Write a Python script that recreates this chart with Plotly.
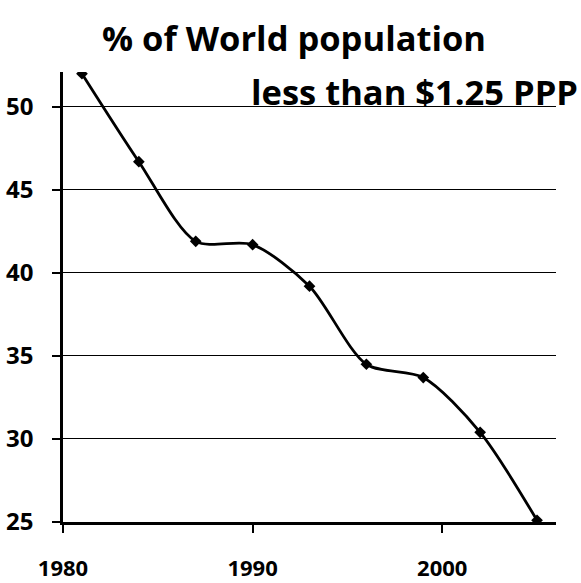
import plotly.graph_objects as go

years = [1981, 1984, 1987, 1990, 1993, 1996, 1999, 2002, 2005]
percent = [52.0, 46.7, 41.9, 41.7, 39.2, 34.5, 33.7, 30.4, 25.1]
x_ticks = [1980, 1990, 2000]
y_ticks = [25, 30, 35, 40, 45, 50]
title_line1 = "% of World population"
title_line2 = "less than $1.25 PPP"

FONT = "Open Sans"
W, H = 581, 583
ML, MR, MT, MB = 63, 25, 72, 61
PW, PH = W - ML - MR, H - MT - MB

fig = go.Figure()
fig.add_trace(go.Scatter(
    x=years, y=percent, mode="lines+markers",
    line=dict(color="black", width=2.8, shape="spline", smoothing=0.8),
    marker=dict(symbol="diamond", size=9, color="black"),
    showlegend=False,
))

fig.update_layout(
    width=W, height=H,
    margin=dict(l=ML, r=MR, t=MT, b=MB, autoexpand=False),
    paper_bgcolor="white", plot_bgcolor="white",
    font=dict(family=FONT, color="black"),
    xaxis=dict(range=[1980, 2006], tickvals=x_ticks, ticktext=[str(v) for v in x_ticks],
               ticks="outside", ticklen=8, tickwidth=2, tickcolor="black",
               showline=True, linewidth=3, linecolor="black",
               showgrid=False, zeroline=False, automargin=False,
               tickfont=dict(family=FONT, size=22, color="black", weight="bold"),
               ticklabelstandoff=17),
    yaxis=dict(range=[25, 52.1], tickvals=y_ticks, ticktext=[str(v) for v in y_ticks],
               ticks="outside", ticklen=8, tickwidth=1.5, tickcolor="black",
               showline=True, linewidth=2.5, linecolor="black",
               showgrid=True, gridcolor="black", gridwidth=1, zeroline=False,
               automargin=False,
               tickfont=dict(family=FONT, size=24, color="black", weight="bold"),
               ticklabelstandoff=14),
    annotations=[
        dict(text=title_line1, xref="paper", yref="paper",
             x=(294 - ML) / PW, y=1 + (MT - 38) / PH,
             xanchor="center", yanchor="middle", showarrow=False,
             font=dict(family=FONT, size=34.5, color="black", weight="bold")),
        dict(text=title_line2, xref="paper", yref="paper",
             x=(580 - ML) / PW, y=1 + (MT - 92) / PH,
             xanchor="right", yanchor="middle", showarrow=False,
             font=dict(family=FONT, size=34.5, color="black", weight="bold")),
    ],
)

fig.write_html("out.html", config={"displayModeBar": False},
               post_script="document.body.style.margin='0';document.body.style.overflow='hidden';")
